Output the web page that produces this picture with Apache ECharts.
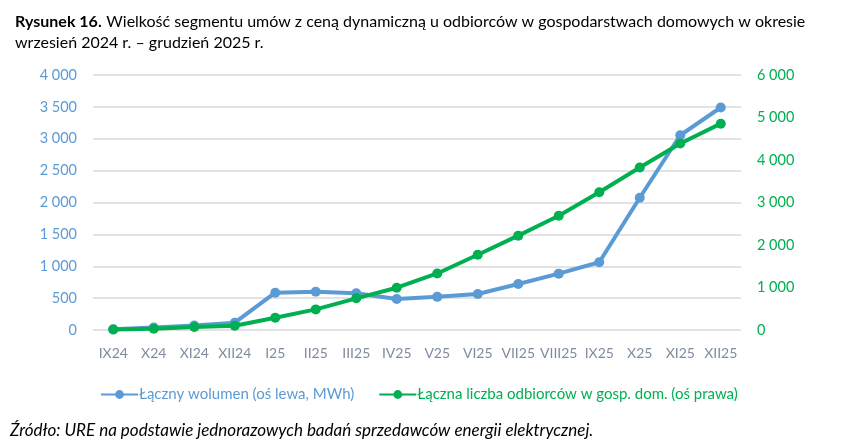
<!DOCTYPE html>
<html>
<head>
    <meta charset="UTF-8">
    <script src="https://cdn.jsdelivr.net/npm/echarts@6.0.0/dist/echarts.min.js"></script>
    <style>
        html, body {margin: 0; padding: 0; background: #fff;}
        #main {width: 861px; height: 447px;}
    </style>
</head>
<body>
<div id="main"></div>
<script type="text/javascript">
    var months = ['IX24', 'X24', 'XI24', 'XII24', 'I25', 'II25', 'III25', 'IV25', 'V25', 'VI25',
        'VII25', 'VIII25', 'IX25', 'X25', 'XI25', 'XII25'];
    // łączny wolumen, MWh (oś lewa)
    var volume = [10, 40, 70, 115, 585, 600, 575, 485, 520, 565, 722, 884, 1062, 2075, 3055, 3490];
    // łączna liczba odbiorców (oś prawa)
    var customers = [10, 30, 70, 100, 290, 485, 745, 995, 1330, 1770, 2220, 2690, 3240, 3825, 4390, 4855];
    var leftTicks = {min: 0, max: 4000, interval: 500};
    var rightTicks = {min: 0, max: 6000, interval: 1000};

    var font = 'Lato, "Open Sans", sans-serif';
    function fmt(v) {
        return String(v).replace(/\B(?=(\d{3})+(?!\d))/g, ' ');
    }

    var myChart = echarts.init(document.getElementById('main'));
    var option = {
        animation: false,
        textStyle: {fontFamily: font},
        title: {
            left: 10,
            top: 6,
            text: '{b|Rysunek 16.} {n|Wielkość segmentu umów z ceną dynamiczną u odbiorców w gospodarstwach domowych w okresie}\n{n|wrzesień 2024 r. – grudzień 2025 r.}',
            textStyle: {
                fontWeight: 'normal',
                rich: {
                    b: {fontFamily: font, fontWeight: 'bold', fontSize: 16, color: '#000', lineHeight: 21},
                    n: {fontFamily: font, fontWeight: 'normal', fontSize: 16, color: '#000', lineHeight: 21}
                }
            }
        },
        grid: {left: 93, right: 120, top: 75, bottom: 117},
        legend: {
            bottom: 40,
            left: 95,
            itemWidth: 37,
            itemHeight: 11,
            itemGap: 24,
            textStyle: {fontSize: 15, padding: [0, 0, 0, -4]},
            data: [
                {name: 'Łączny wolumen (oś lewa, MWh)', textStyle: {color: '#5b9bd5'}},
                {name: 'Łączna liczba odbiorców w gosp. dom. (oś prawa)', textStyle: {color: '#00b050'}}
            ]
        },
        xAxis: {
            type: 'category',
            data: months,
            boundaryGap: true,
            axisLine: {show: false},
            axisTick: {show: false},
            axisLabel: {color: '#7f8c9f', fontSize: 14, margin: 16, interval: 0}
        },
        yAxis: [
            {
                type: 'value',
                min: leftTicks.min, max: leftTicks.max, interval: leftTicks.interval,
                axisLine: {show: false},
                axisTick: {show: false},
                axisLabel: {color: '#5b9bd5', fontSize: 14.5, margin: 16, formatter: fmt},
                splitLine: {lineStyle: {color: '#d9d9d9', width: 1.5}}
            },
            {
                type: 'value',
                min: rightTicks.min, max: rightTicks.max, interval: rightTicks.interval,
                axisLine: {show: false},
                axisTick: {show: false},
                axisLabel: {color: '#00b050', fontSize: 14.5, margin: 16, formatter: fmt},
                splitLine: {show: false}
            }
        ],
        series: [
            {
                name: 'Łączny wolumen (oś lewa, MWh)',
                type: 'line',
                yAxisIndex: 0,
                data: volume,
                symbol: 'circle',
                symbolSize: 10,
                color: '#5b9bd5',
                lineStyle: {width: 4},
                z: 2
            },
            {
                name: 'Łączna liczba odbiorców w gosp. dom. (oś prawa)',
                type: 'line',
                yAxisIndex: 1,
                data: customers,
                symbol: 'circle',
                symbolSize: 10,
                color: '#00b050',
                lineStyle: {width: 4},
                z: 3
            }
        ],
        graphic: [{
            type: 'text',
            left: 10,
            top: 422,
            style: {
                text: 'Źródło: URE na podstawie jednorazowych badań sprzedawców energii elektrycznej.',
                font: 'italic 17px ' + font,
                fill: '#000'
            }
        }]
    };
    myChart.setOption(option);
</script>
</body>
</html>
